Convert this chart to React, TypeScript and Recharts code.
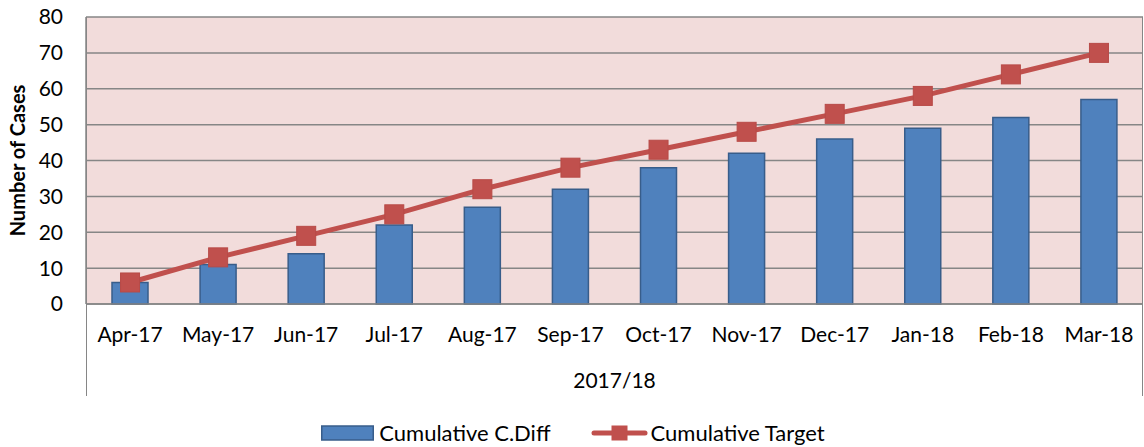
import React from "react";
import {
  Bar,
  CartesianGrid,
  ComposedChart,
  Line,
  XAxis,
  YAxis,
} from "recharts";

const months = [
  "Apr-17", "May-17", "Jun-17", "Jul-17", "Aug-17", "Sep-17",
  "Oct-17", "Nov-17", "Dec-17", "Jan-18", "Feb-18", "Mar-18",
];
const cumulativeCDiff = [6, 11, 14, 22, 27, 32, 38, 42, 46, 49, 52, 57];
const cumulativeTarget = [6, 13, 19, 25, 32, 38, 43, 48, 53, 58, 64, 70];
const yTicks = [0, 10, 20, 30, 40, 50, 60, 70, 80];
const period = "2017/18";

const BAR_FILL = "#4f81bd";
const BAR_STROKE = "#385d8a";
const LINE_COLOR = "#c0504d";
const GRID = "#868686";
const FONT = "Lato, 'Open Sans', sans-serif";

const data = months.map((month, i) => ({
  month,
  year: period,
  cDiff: cumulativeCDiff[i],
  target: cumulativeTarget[i],
}));

const tickStyle = { fontSize: 21, fill: "#000", fontFamily: FONT };

function SquareDot(props: any) {
  const { cx, cy, index } = props;
  if (cx == null || cy == null) return null;
  return (
    <rect
      key={`dot-${index}`}
      x={cx - 9.5}
      y={cy - 9.5}
      width={19}
      height={19}
      fill={LINE_COLOR}
      stroke="#b84a47"
      strokeWidth={1}
    />
  );
}

function YLabel(props: any) {
  const { viewBox } = props;
  const x = viewBox.x + 17;
  const y = viewBox.y + viewBox.height / 2;
  return (
    <text
      x={x}
      y={y}
      transform={`rotate(-90 ${x} ${y})`}
      textAnchor="middle"
      dominantBaseline="central"
      fontFamily={FONT}
      fontWeight="bold"
      fontSize={20}
      fill="#000"
    >
      Number of Cases
    </text>
  );
}

function ChartLegend() {
  const text = { fontFamily: FONT, fontSize: 22, color: "#000", lineHeight: "26px" };
  return (
    <div
      style={{
        position: "absolute",
        left: 1,
        top: 420,
        width: 1144,
        display: "flex",
        justifyContent: "center",
        alignItems: "center",
      }}
    >
      <svg width={53} height={16}>
        <rect x={0.75} y={1} width={51.5} height={14} fill={BAR_FILL} stroke={BAR_STROKE} strokeWidth={1.5} />
      </svg>
      <span style={{ ...text, marginLeft: 5 }}>Cumulative C.Diff</span>
      <svg width={57} height={16} style={{ marginLeft: 40 }}>
        <line x1={3} y1={8} x2={54} y2={8} stroke={LINE_COLOR} strokeWidth={5} strokeLinecap="round" />
        <rect x={20.5} y={0.5} width={16} height={15} fill={LINE_COLOR} />
      </svg>
      <span style={{ ...text, marginLeft: 3 }}>Cumulative Target</span>
    </div>
  );
}

export default function App() {
  return (
    <div
      style={{
        position: "absolute",
        left: 0,
        top: 0,
        width: 1144,
        height: 447,
        background: "#fff",
      }}
    >
      <ComposedChart
        width={1144}
        height={447}
        data={data}
        margin={{ top: 17, right: 1, bottom: 53, left: 0 }}
        barSize={36}
      >
        <CartesianGrid
          xAxisId="month"
          vertical={false}
          stroke={GRID}
          strokeWidth={1.5}
          fill="#f2dcdb"
          fillOpacity={1}
        />
        <XAxis
          xAxisId="month"
          dataKey="month"
          axisLine={{ stroke: GRID, strokeWidth: 1.5 }}
          tickLine={false}
          tickSize={0}
          tickMargin={23}
          height={50}
          interval={0}
          tick={tickStyle}
        />
        <XAxis
          xAxisId="year"
          dataKey="year"
          allowDuplicatedCategory={false}
          axisLine={false}
          tickLine={false}
          tickSize={0}
          tickMargin={19}
          height={40}
          tick={tickStyle}
        />
        <YAxis
          domain={[0, 80]}
          ticks={yTicks}
          width={86}
          axisLine={{ stroke: GRID, strokeWidth: 1.5 }}
          tickLine={false}
          tickSize={0}
          tickMargin={23}
          tick={tickStyle}
          label={<YLabel />}
        />
        <Bar
          xAxisId="month"
          dataKey="cDiff"
          name="Cumulative C.Diff"
          fill={BAR_FILL}
          stroke={BAR_STROKE}
          strokeWidth={1.5}
          isAnimationActive={false}
        />
        <Line
          xAxisId="month"
          dataKey="target"
          name="Cumulative Target"
          type="linear"
          stroke={LINE_COLOR}
          strokeWidth={5}
          dot={SquareDot}
          activeDot={false}
          isAnimationActive={false}
        />
      </ComposedChart>
      <div
        style={{
          position: "absolute",
          left: 86,
          top: 17,
          width: 1057,
          height: 379,
          boxSizing: "border-box",
          borderLeft: `1.5px solid ${GRID}`,
          borderRight: `1.5px solid ${GRID}`,
          pointerEvents: "none",
        }}
      />
      <ChartLegend />
    </div>
  );
}
